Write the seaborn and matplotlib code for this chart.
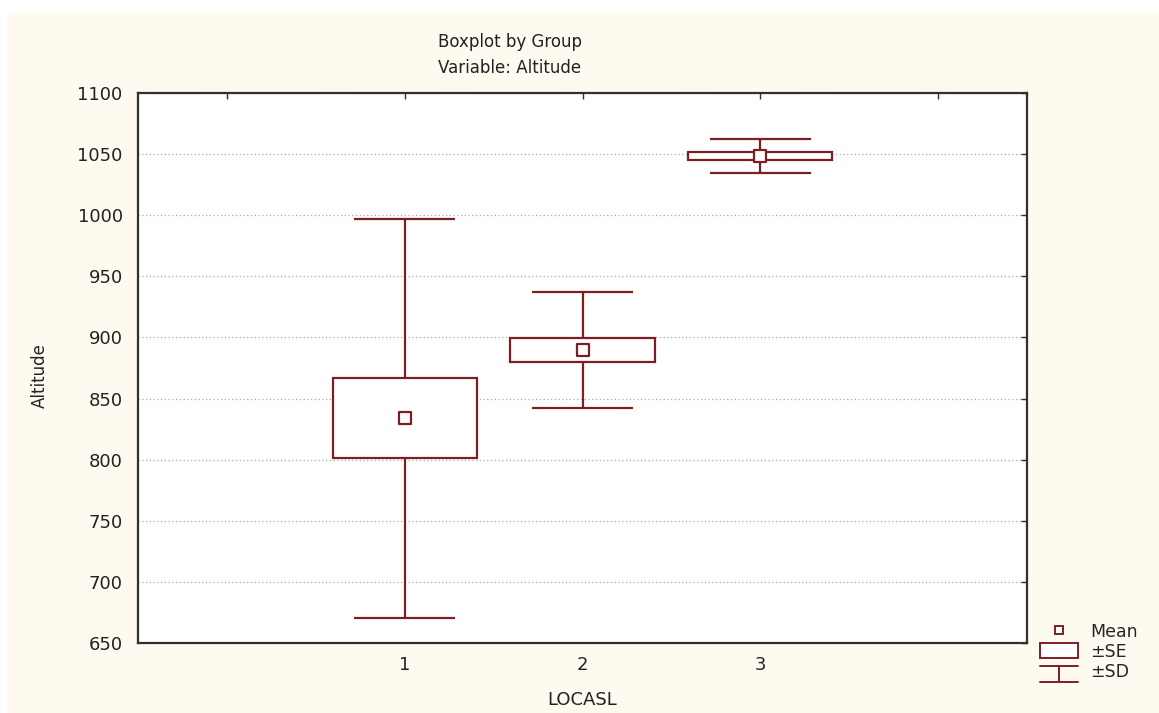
import numpy as np
import pandas as pd
import seaborn as sns
import matplotlib
matplotlib.use("Agg")
import matplotlib.pyplot as plt
from matplotlib.patches import Rectangle
from matplotlib.lines import Line2D
from matplotlib.legend_handler import HandlerBase

# ---- data ----
groups = [1, 2, 3]
means = [833.8, 889.6, 1048.5]
se = [32.7, 9.6, 3.0]
sd = [163.0, 47.5, 13.6]
yticks = [650, 700, 750, 800, 850, 900, 950, 1000, 1050, 1100]
xtick_pos = [0, 1, 2, 3, 4]
xtick_labels = ["", "1", "2", "3", ""]

df = pd.DataFrame({"LOCASL": groups, "Mean": means, "SE": se, "SD": sd})

sns.set_style("white")
plt.rcParams['font.family'] = ['DejaVu Sans']

RED = "#7d1f22"
CREAM = "#fffaef"

fig = plt.figure(figsize=(11.59, 7.13), dpi=100)
fig.patch.set_facecolor("white")
fig.add_artist(Rectangle((7 / 1159, 0), 1, 1 - 13 / 713, transform=fig.transFigure,
                         facecolor=CREAM, edgecolor="none", zorder=-10))

ax = fig.add_axes([138 / 1159, 1 - 643 / 713, (1027 - 138) / 1159, (643 - 93) / 713])
ax.set_facecolor("white")

box_w = 0.81
cap_w = 0.57
x = df["LOCASL"].to_numpy()
m = df["Mean"].to_numpy()
s_e = df["SE"].to_numpy()
s_d = df["SD"].to_numpy()

# whiskers (±SD)
ax.vlines(x, m - s_d, m + s_d, color=RED, lw=1.6, zorder=2)
ax.hlines(m + s_d, x - cap_w / 2, x + cap_w / 2, color=RED, lw=1.6, zorder=2)
ax.hlines(m - s_d, x - cap_w / 2, x + cap_w / 2, color=RED, lw=1.6, zorder=2)
# boxes (±SE)
ax.bar(x, 2 * s_e, bottom=m - s_e, width=box_w, facecolor="white", edgecolor=RED,
       linewidth=1.6, zorder=3)
# means
sns.scatterplot(data=df, x="LOCASL", y="Mean", marker="s", s=65, facecolor="white",
                edgecolor=RED, linewidth=1.6, zorder=4, ax=ax, legend=False)

ax.set_xlim(-0.5, 4.5)
ax.set_ylim(650, 1100)
ax.set_yticks(yticks)
ax.set_xticks(xtick_pos)
ax.set_xticklabels(xtick_labels)
ax.yaxis.grid(True, color="#a8a8a8", linestyle=(0, (1, 2)), linewidth=0.9)
ax.xaxis.grid(False)
ax.set_axisbelow(True)
for sp in ax.spines.values():
    sp.set_visible(True)
    sp.set_color("#303030")
    sp.set_linewidth(1.6)
ax.tick_params(direction="in", length=4, width=1, color="#303030", top=True, right=True,
               labelsize=13, labelcolor="#222222")
ax.tick_params(axis="y", pad=11)
ax.tick_params(axis="x", pad=9)

ax.set_xlabel("LOCASL", fontsize=13, color="#222222")
ax.set_ylabel("Altitude", fontsize=12, color="#222222")
ax.xaxis.set_label_coords(0.5, -0.088)
ax.yaxis.set_label_coords(-0.1, 0.487)

fig.text(510 / 1159, 1 - 42 / 713, "Boxplot by Group", ha="center", va="center",
         fontsize=12, color="#222222")
fig.text(510 / 1159, 1 - 68 / 713, "Variable: Altitude", ha="center", va="center",
         fontsize=12, color="#222222")


class SDHandler(HandlerBase):
    def create_artists(self, legend, orig_handle, xdescent, ydescent, width, height,
                       fontsize, trans):
        cx = -xdescent + width / 2
        y0 = -ydescent - 0.25 * height
        y1 = -ydescent + 0.85 * height
        kw = dict(color=RED, lw=1.4, transform=trans)
        return [Line2D([cx, cx], [y0, y1], **kw),
                Line2D([-xdescent, -xdescent + width], [y0, y0], **kw),
                Line2D([-xdescent, -xdescent + width], [y1, y1], **kw)]


class SEHandler(HandlerBase):
    def create_artists(self, legend, orig_handle, xdescent, ydescent, width, height,
                       fontsize, trans):
        r = Rectangle((-xdescent, -ydescent + 0.0 * height), width, 1.05 * height,
                      facecolor="white", edgecolor=RED, lw=1.4, transform=trans)
        return [r]


h_mean = Line2D([], [], marker="s", ls="none", markersize=6, markerfacecolor="white",
                markeredgecolor=RED, markeredgewidth=1.4)
h_se = Rectangle((0, 0), 1, 1)
h_sd = Line2D([], [])
fig.legend([h_mean, h_se, h_sd], ["Mean", "±SE", "±SD"],
           handler_map={h_se: SEHandler(), h_sd: SDHandler()},
           loc="upper left", bbox_to_anchor=(1040 / 1159, 1 - 623 / 713),
           frameon=False, fontsize=12.5, handlelength=2.2, handleheight=0.9,
           handletextpad=0.7, labelspacing=0.12, borderaxespad=0, borderpad=0)

fig.savefig("out.png", dpi=100, facecolor=fig.get_facecolor())
